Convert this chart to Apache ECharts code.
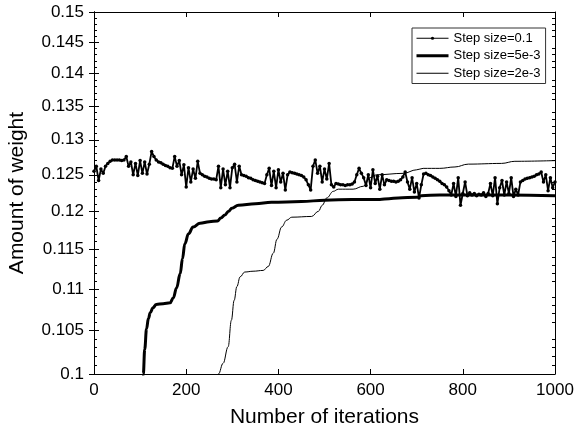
<!DOCTYPE html>
<html>
<head>
<meta charset="utf-8">
<script src="https://cdn.jsdelivr.net/npm/echarts@6/dist/echarts.min.js"></script>
<style>
  html, body { margin: 0; padding: 0; background: #fff; }
  #chart { width: 576px; height: 430px; }
</style>
</head>
<body>
<div id="chart"></div>
<script>
// y tick labels (log scaled axis)
var yMajorTicks = [0.1, 0.105, 0.11, 0.115, 0.12, 0.125, 0.13, 0.135, 0.14, 0.145, 0.15];
var xTicks = [0, 200, 400, 600, 800, 1000];

// Step size=0.1, one value every 5 iterations (0..1000)
var step01Values = [
  0.1255, 0.1262, 0.1242, 0.1258, 0.1252, 0.1262, 0.1266, 0.1269, 0.1271, 0.1271,
  0.1271, 0.1271, 0.1270, 0.1271, 0.1276, 0.1262, 0.1268, 0.1250, 0.1266, 0.1249,
  0.1270, 0.1252, 0.1268, 0.1251, 0.1265, 0.1283, 0.1276, 0.1271, 0.1268, 0.1267,
  0.1265, 0.1263, 0.1262, 0.1260, 0.1259, 0.1276, 0.1262, 0.1270, 0.1250, 0.1264,
  0.1233, 0.1260, 0.1240, 0.1258, 0.1245, 0.1269, 0.1252, 0.1250, 0.1248, 0.1247,
  0.1245, 0.1244, 0.1244, 0.1243, 0.1262, 0.1232, 0.1258, 0.1236, 0.1255, 0.1232,
  0.1260, 0.1265, 0.1240, 0.1262, 0.1250, 0.1249, 0.1248, 0.1246, 0.1245, 0.1243,
  0.1242, 0.1241, 0.1240, 0.1239, 0.1238, 0.1250, 0.1259, 0.1235, 0.1255, 0.1232,
  0.1257, 0.1240, 0.1252, 0.1229, 0.1250, 0.1254, 0.1253, 0.1252, 0.1251, 0.1250,
  0.1249, 0.1247, 0.1243, 0.1236, 0.1229, 0.1262, 0.1271, 0.1252, 0.1262, 0.1240,
  0.1258, 0.1244, 0.1266, 0.1236, 0.1233, 0.1238, 0.1237, 0.1236, 0.1236, 0.1235,
  0.1236, 0.1236, 0.1237, 0.1240, 0.1250, 0.1259, 0.1252, 0.1246, 0.1235, 0.1250,
  0.1232, 0.1257, 0.1238, 0.1248, 0.1230, 0.1250, 0.1236, 0.1243, 0.1242, 0.1241,
  0.1241, 0.1240, 0.1241, 0.1243, 0.1247, 0.1254, 0.1240, 0.1230, 0.1246, 0.1226,
  0.1238, 0.1218, 0.1236, 0.1251, 0.1252, 0.1250, 0.1249, 0.1247, 0.1245, 0.1243,
  0.1241, 0.1238, 0.1236, 0.1233, 0.1228, 0.1222, 0.1238, 0.1220, 0.1246, 0.1208,
  0.1224, 0.1240, 0.1221, 0.1225, 0.1222, 0.1224, 0.1221, 0.1223, 0.1222, 0.1225,
  0.1220, 0.1224, 0.1238, 0.1221, 0.1246, 0.1210, 0.1232, 0.1242, 0.1222, 0.1240,
  0.1224, 0.1246, 0.1220, 0.1230, 0.1222, 0.1240, 0.1242, 0.1244, 0.1245, 0.1246,
  0.1247, 0.1248, 0.1250, 0.1251, 0.1254, 0.1240, 0.1250, 0.1228, 0.1246, 0.1232,
  0.1240
];
var step01Every = 5;

// Step size=5e-3
var step5e3Iters = [103, 107, 110, 114, 118, 122, 128, 135, 150, 165, 172, 179, 187, 192, 197, 205, 215, 230, 250, 268,
  275, 284, 292, 299, 313, 350, 385, 450, 501, 560, 620, 640, 660, 700, 710, 750, 800, 900, 1000];
var step5e3Values = [0.0970, 0.1000, 0.1028, 0.1052, 0.1064, 0.1071, 0.1077, 0.1081, 0.1082, 0.1083, 0.1089, 0.1101,
  0.1119, 0.1138, 0.1157, 0.1170, 0.1179, 0.1184, 0.1186, 0.1187, 0.1191, 0.1195, 0.1200, 0.1204, 0.1208, 0.1210,
  0.1212, 0.1213, 0.1215, 0.1216, 0.1216, 0.1217, 0.1218, 0.1219, 0.1221, 0.1222, 0.1222, 0.1222, 0.1221];

// Step size=2e-3
var step2e3Iters = [262, 270, 280, 291, 298, 304, 310, 317, 327, 345, 367, 378, 389, 397, 407, 418, 429, 472, 487, 495,
  505, 519, 530, 562, 584, 599, 613, 671, 700, 714, 750, 783, 812, 884, 913, 1000];
var step2e3Values = [0.0985, 0.1000, 0.1012, 0.1031, 0.1062, 0.1086, 0.1103, 0.1115, 0.1121, 0.1122, 0.1123, 0.1128,
  0.1145, 0.1163, 0.1179, 0.1188, 0.1192, 0.1193, 0.1200, 0.1208, 0.1218, 0.1227, 0.1230, 0.1230, 0.1234, 0.1246,
  0.1250, 0.1252, 0.1257, 0.1259, 0.1259, 0.1261, 0.1265, 0.1266, 0.1269, 0.1270];

var seriesNames = ['Step size=0.1', 'Step size=5e-3', 'Step size=2e-3'];
var lineWidths = [1.8, 3, 1];

function pairs(xs, ys) {
  return ys.map(function (v, i) { return [xs[i], v]; });
}

var step01Data = step01Values.map(function (v, i) { return [i * step01Every, v]; });

// minor ticks every 0.001
var yMinorTicks = [];
for (var k = 101; k < 150; k++) {
  if (k % 5 !== 0) yMinorTicks.push(k / 1000);
}

var font = 'Liberation Sans';
var lineCol = '#000';

function yAx(pos, ticks, len, withLabels) {
  var ax = {
    type: 'log',
    min: 0.1,
    max: 0.15,
    position: pos,
    axisLine: { show: true, lineStyle: { color: lineCol, width: 1 } },
    axisTick: { show: true, inside: true, length: len, customValues: ticks, lineStyle: { color: lineCol } },
    axisLabel: { show: false },
    splitLine: { show: false },
    minorTick: { show: false },
    minorSplitLine: { show: false }
  };
  if (withLabels) {
    ax.axisLabel = {
      show: true,
      customValues: ticks,
      margin: 10,
      color: '#000',
      fontFamily: font,
      fontSize: 17,
      formatter: function (v) { return String(+(+v).toFixed(3)); }
    };
    ax.name = 'Amount of weight';
    ax.nameLocation = 'middle';
    ax.nameGap = 66;
    ax.nameTextStyle = { color: '#000', fontFamily: font, fontSize: 21 };
  }
  return ax;
}

var chart = echarts.init(document.getElementById('chart'));
chart.setOption({
  animation: false,
  backgroundColor: '#fff',
  grid: { left: 94, right: 21, top: 12, bottom: 56, containLabel: false, outerBoundsMode: 'none' },
  legend: {
    data: [
      { name: seriesNames[0], lineStyle: { width: 1.2 } },
      { name: seriesNames[1], itemStyle: { opacity: 0 }, lineStyle: { width: lineWidths[1] } },
      { name: seriesNames[2], itemStyle: { opacity: 0 }, lineStyle: { width: lineWidths[2] } }
    ],
    orient: 'vertical',
    left: 412,
    top: 28,
    padding: [3, 5, 3, 3],
    itemWidth: 32,
    itemHeight: 4,
    itemGap: 3,
    backgroundColor: '#fff',
    borderColor: '#333',
    borderWidth: 1,
    borderRadius: 0,
    textStyle: { color: '#000', fontFamily: font, fontSize: 13, lineHeight: 14.5 }
  },
  xAxis: [
    {
      type: 'value',
      min: 0,
      max: 1000,
      interval: 200,
      position: 'bottom',
      name: 'Number of iterations',
      nameLocation: 'middle',
      nameGap: 33,
      nameTextStyle: { color: '#000', fontFamily: font, fontSize: 21 },
      axisLine: { show: true, lineStyle: { color: lineCol, width: 1 } },
      axisTick: { show: true, inside: true, length: 5, customValues: xTicks, lineStyle: { color: lineCol } },
      axisLabel: {
        customValues: xTicks, margin: 8, color: '#000', fontFamily: font, fontSize: 17,
        formatter: function (v) { return String(v); }
      },
      splitLine: { show: false }
    },
    {
      type: 'value',
      min: 0,
      max: 1000,
      interval: 200,
      position: 'top',
      axisLine: { show: true, lineStyle: { color: lineCol, width: 1 } },
      axisTick: { show: true, inside: true, length: 5, customValues: xTicks, lineStyle: { color: lineCol } },
      axisLabel: { show: false },
      splitLine: { show: false }
    }
  ],
  yAxis: [
    yAx('left', yMajorTicks, 5, true),
    yAx('right', yMajorTicks, 5, false),
    yAx('left', yMinorTicks, 3, false),
    yAx('right', yMinorTicks, 3, false)
  ],
  series: [
    {
      name: seriesNames[0],
      type: 'line',
      data: step01Data,
      xAxisIndex: 0,
      yAxisIndex: 0,
      symbol: 'circle',
      symbolSize: 3.5,
      showSymbol: true,
      color: '#000',
      itemStyle: { color: '#000' },
      lineStyle: { color: '#000', width: lineWidths[0] },
      z: 3
    },
    {
      name: seriesNames[1],
      type: 'line',
      data: pairs(step5e3Iters, step5e3Values),
      xAxisIndex: 0,
      yAxisIndex: 0,
      symbol: 'none',
      smooth: 0.4,
      smoothMonotone: 'x',
      color: '#000',
      lineStyle: { color: '#000', width: lineWidths[1] },
      z: 2
    },
    {
      name: seriesNames[2],
      type: 'line',
      data: pairs(step2e3Iters, step2e3Values),
      xAxisIndex: 0,
      yAxisIndex: 0,
      symbol: 'none',
      smooth: 0.4,
      smoothMonotone: 'x',
      color: '#000',
      lineStyle: { color: '#000', width: lineWidths[2] },
      z: 2
    }
  ]
});
</script>
</body>
</html>
